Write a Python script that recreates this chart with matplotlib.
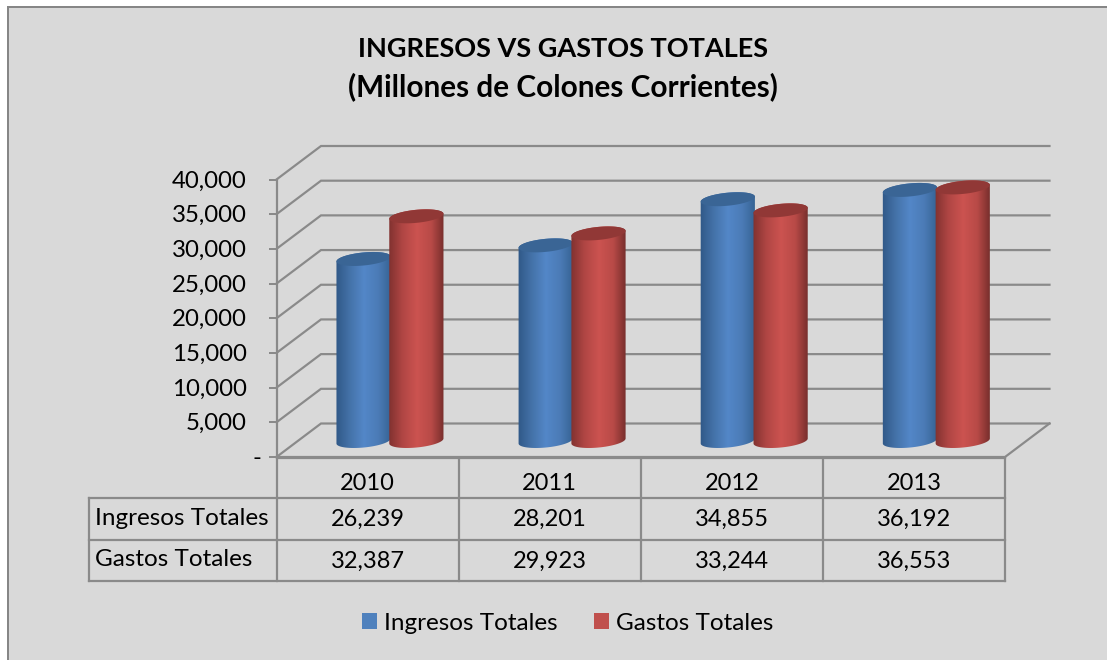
"""
Ingresos vs gastos totales - 3D style cylinder chart with data table
"""

import numpy as np
import matplotlib
matplotlib.use('Agg')
import matplotlib.pyplot as plt
from matplotlib.patches import Polygon, Patch

# Data
YEARS = ['2010', '2011', '2012', '2013']
SERIES_NAMES = ['Ingresos Totales', 'Gastos Totales']
INGRESOS = [26239, 28201, 34855, 36192]
GASTOS = [32387, 29923, 33244, 36553]
TICKS = [0, 5000, 10000, 15000, 20000, 25000, 30000, 35000, 40000]

# Style
W, H = 1107, 660
DPI = 100
BACKGROUND = '#D9D9D9'
LINE = '#8A8A8A'
FONT = 'Lato'
BLUE_STOPS = ['#2E5685', '#4472A8', '#5387C8', '#4B7BB6', '#33608F']
RED_STOPS = ['#7E302E', '#B04644', '#CC5350', '#B84A47', '#6E2A28']
BLUE_TOP, RED_TOP = '#3A6595', '#913836'
BLUE_FLAT, RED_FLAT = '#4F81BD', '#C0504D'

# Plot box in pixels
X0, X1 = 276.5, 1005
Y_TOP, Y_BASE = 179.5, 457
DX, DY = 44.5, 33.5
ROWS_Y = [457.5, 497.5, 539.5, 580.5]
TABLE_LEFT = 89


def px(value):
    return value * 72 / DPI


plt.rcParams['font.family'] = [FONT, 'DejaVu Sans']

fig = plt.figure(figsize=(W / DPI, H / DPI), dpi=DPI)
fig.patch.set_facecolor('white')

# Overlay in pixels: frame, title, table
page = fig.add_axes([0, 0, 1, 1], zorder=0)
page.set_xlim(0, W)
page.set_ylim(H, 0)
page.axis('off')
page.add_patch(plt.Rectangle((8, 7), W, H, facecolor=BACKGROUND,
                             edgecolor='#868686', linewidth=px(2)))
page.text(563, 49, 'INGRESOS VS GASTOS TOTALES', ha='center', va='center',
          fontsize=19.5, fontweight='bold', color='black')
page.text(563, 87, '(Millones de Colones Corrientes)', ha='center', va='center',
          fontsize=21.4, fontweight='bold', color='black')

# Table
col_w = (X1 - X0) / len(YEARS)
col_x = [X0 + i * col_w for i in range(len(YEARS) + 1)]
for x in col_x:
    page.plot([x, x], [ROWS_Y[0], ROWS_Y[-1]], color=LINE, lw=px(2.2))
page.plot([TABLE_LEFT, TABLE_LEFT], [ROWS_Y[1], ROWS_Y[-1]], color=LINE, lw=px(2.2))
page.plot([X0, X1], [ROWS_Y[0], ROWS_Y[0]], color=LINE, lw=px(2.2))
for y in ROWS_Y[1:]:
    page.plot([TABLE_LEFT, X1], [y, y], color=LINE, lw=px(2.2))
for i, year in enumerate(YEARS):
    cx = (col_x[i] + col_x[i + 1]) / 2
    page.text(cx, 483, year, ha='center', va='center', fontsize=17)
    page.text(cx, 519.5, f'{INGRESOS[i]:,}', ha='center', va='center', fontsize=17)
    page.text(cx, 561, f'{GASTOS[i]:,}', ha='center', va='center', fontsize=17)
page.text(95, 518.5, SERIES_NAMES[0], ha='left', va='center', fontsize=17.5)
page.text(95, 559, SERIES_NAMES[1], ha='left', va='center', fontsize=17.5)

# Chart axes, front plane of the 3D box
ax = fig.add_axes([X0 / W, 1 - Y_BASE / H, (X1 - X0) / W, (Y_BASE - Y_TOP) / H], zorder=1)
ax.patch.set_alpha(0)
ax.set_xlim(0, len(YEARS))
ax.set_ylim(0, TICKS[-1])
for side in ['top', 'right', 'bottom']:
    ax.spines[side].set_visible(False)
ax.spines['left'].set_color(LINE)
ax.spines['left'].set_linewidth(px(2.2))
ax.set_xticks([])
ax.set_yticks(TICKS)
ax.set_yticklabels([])
ax.tick_params(axis='y', length=px(8), width=px(2), color=LINE)

sx = len(YEARS) / (X1 - X0)         # category units per pixel
sy = TICKS[-1] / (Y_BASE - Y_TOP)   # value units per pixel

for v in TICKS:
    ax.plot([0, DX * sx, (X1 + DX - X0) * sx], [v, v + DY * sy, v + DY * sy],
            color=LINE, lw=px(2.2), clip_on=False, solid_joinstyle='miter', zorder=1)
    label = f'{v:,}' if v else '-'
    ax.annotate(label, (0, v), xytext=(-px(30 if v else 15), px(-1.5)), textcoords='offset points',
                ha='right', va='center', fontsize=17.3, annotation_clip=False)
ax.plot([0, len(YEARS), len(YEARS) + DX * sx], [0, 0, DY * sy], color=LINE,
        lw=px(2.2), clip_on=False, solid_joinstyle='miter', zorder=1)


def draw_cylinder(cx, value, stops, top_color, z):
    half_w = 27 * sx
    base = 16 * sy
    a = np.linspace(0, 2 * np.pi, 120)
    tilt = np.radians(5)
    ew, eh = 27.2, 6.6

    def ellipse(angle, level):
        ex = ew * np.cos(angle) * np.cos(tilt) + eh * np.sin(angle) * np.sin(tilt)
        ey = ew * np.cos(angle) * np.sin(tilt) + eh * np.sin(angle) * np.cos(tilt)
        return cx + ex * sx, level + ey * sy

    level = value + base
    low = np.linspace(np.pi, 2 * np.pi, 60)
    high = np.linspace(0, np.pi, 60)
    bx, by = ellipse(low, base)
    tx, ty = ellipse(high, level)
    outline = np.column_stack([np.r_[bx, tx], np.r_[by, ty]])
    body = Polygon(outline, closed=True, facecolor='none', edgecolor='none',
                   transform=ax.transData)
    ax.add_patch(body)
    body.set_clip_on(False)

    cmap = matplotlib.colors.LinearSegmentedColormap.from_list('c', stops)
    grad = np.linspace(0, 1, 128).reshape(1, -1)
    im = ax.imshow(grad, cmap=cmap, aspect='auto', interpolation='bilinear', zorder=z,
                   extent=[cx - half_w - 0.01, cx + half_w + 0.01, 0, TICKS[-1] + 4000])
    im.set_clip_path(body)

    ex, ey = ellipse(a, level)
    cap = Polygon(np.column_stack([ex, ey]), closed=True, facecolor=top_color,
                  edgecolor='none', zorder=z + 0.1, clip_on=False)
    ax.add_patch(cap)


# Draw the cylinders, red in front of blue
for i in range(len(YEARS)):
    draw_cylinder(i + 0.478, INGRESOS[i], BLUE_STOPS, BLUE_TOP, 3 + i)
    draw_cylinder(i + 0.768, GASTOS[i], RED_STOPS, RED_TOP, 3.5 + i)
ax.set_xlim(0, len(YEARS))
ax.set_ylim(0, TICKS[-1])

# Legend
handles = [Patch(facecolor=BLUE_FLAT), Patch(facecolor=RED_FLAT)]
page.legend(handles, SERIES_NAMES, ncol=2, frameon=False, loc='center',
            bbox_to_anchor=(567.5 / W, 1 - 623 / H), bbox_transform=fig.transFigure,
            fontsize=17.5, handlelength=0.62, handleheight=0.62, handletextpad=0.29,
            columnspacing=1.48)

fig.savefig('out.png', dpi=DPI)
